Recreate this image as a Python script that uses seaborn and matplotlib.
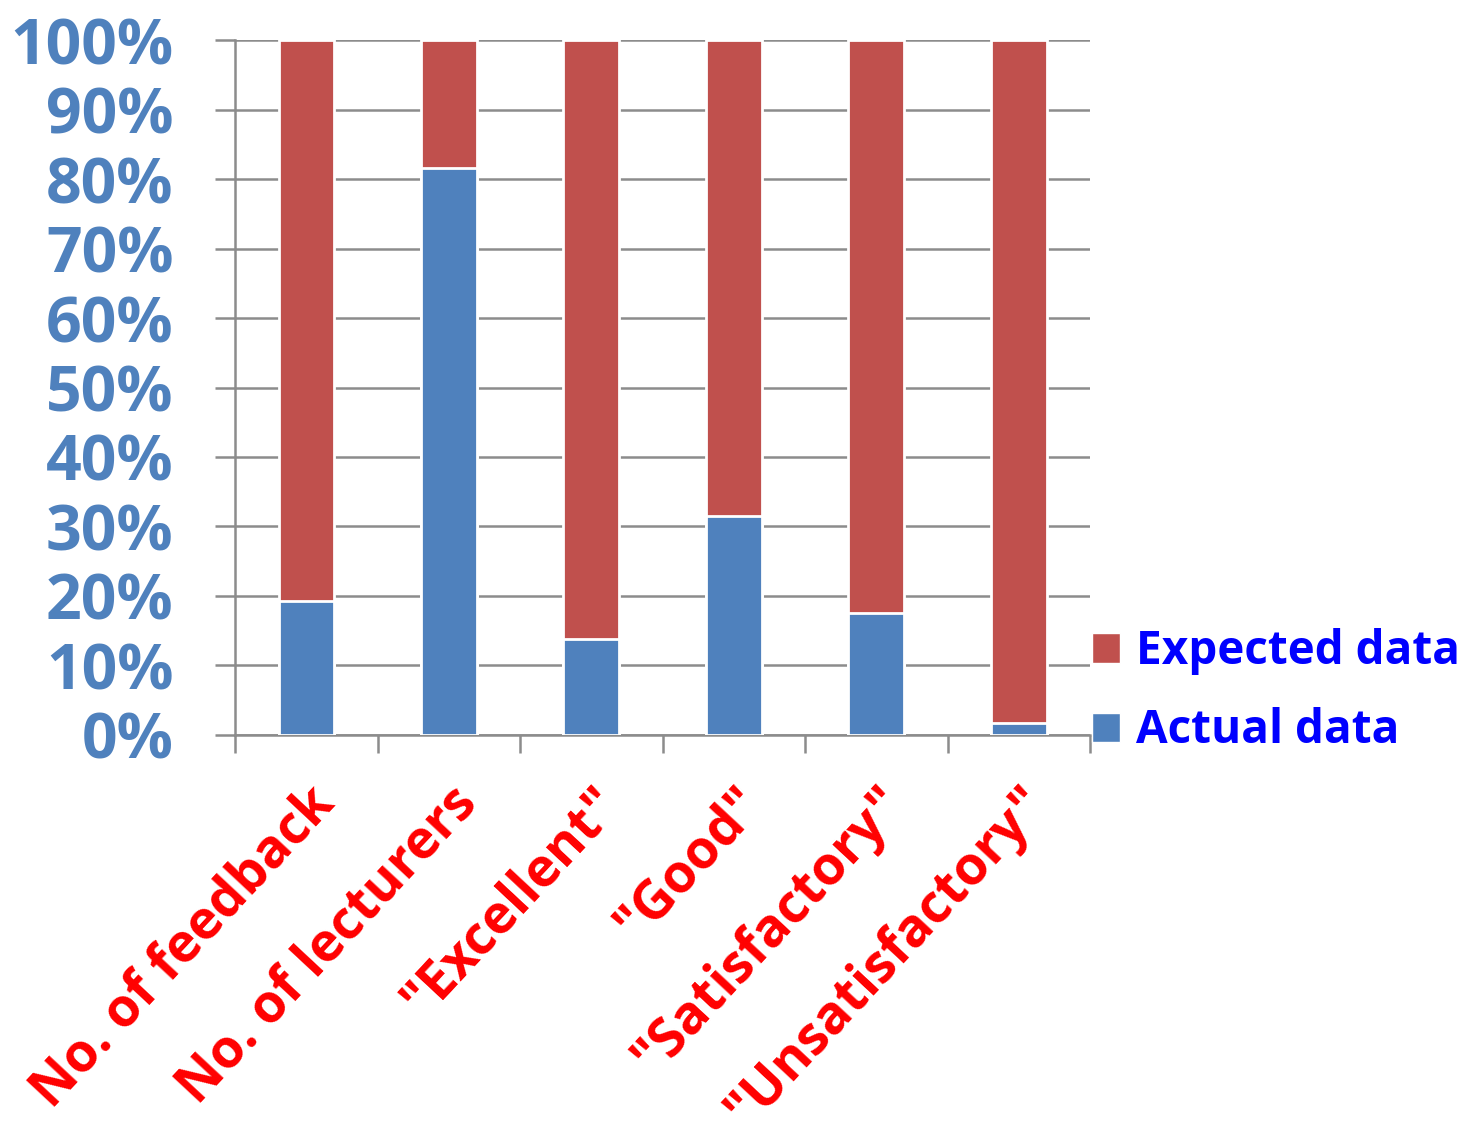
import matplotlib
matplotlib.use("Agg")
import matplotlib.pyplot as plt
import seaborn as sns
import numpy as np
import pandas as pd
from matplotlib.patches import Patch
from matplotlib.ticker import FuncFormatter, FixedLocator

categories = ["No. of feedback", "No. of lecturers", '"Excellent"', '"Good"',
              '"Satisfactory"', '"Unsatisfactory"']
actual = [19.3, 81.6, 13.8, 31.5, 17.5, 1.7]
expected = [80.7, 18.4, 86.2, 68.5, 82.5, 98.3]
yticks = [0, 10, 20, 30, 40, 50, 60, 70, 80, 90, 100]

sns.set_theme(style="white")
plt.rcParams['font.family'] = ['Open Sans', 'DejaVu Sans']

red = "#C0504D"
blue = "#4F81BD"

df = pd.DataFrame({"cat": categories, "actual": actual, "expected": expected})
df["total"] = df["actual"] + df["expected"]

fig = plt.figure(figsize=(14.83, 11.25), dpi=100)
ax = fig.add_axes([0.1585, 0.3467, 0.735 - 0.1585, 0.9644 - 0.3467])

sns.barplot(data=df, x="cat", y="total", color=red, width=0.39,
            edgecolor="white", linewidth=2, saturation=1, ax=ax, zorder=3)
sns.barplot(data=df, x="cat", y="actual", color=blue, width=0.39,
            edgecolor="white", linewidth=2, saturation=1, ax=ax, zorder=4)

ax.set_xlim(-0.5, len(categories) - 0.5)
ax.set_ylim(0, 100)
ax.set_yticks(yticks)
ax.yaxis.set_major_formatter(FuncFormatter(lambda v, p: f"{int(v)}%"))
ax.grid(axis="y", color="#8C8C8C", linewidth=1.8, zorder=0)
ax.set_axisbelow(True)

ax.spines["top"].set_visible(False)
ax.spines["right"].set_visible(False)
for s in ["left", "bottom"]:
    ax.spines[s].set_color("#8C8C8C")
    ax.spines[s].set_linewidth(1.8)

ax.tick_params(axis="y", which="major", length=14.4, width=1.8, color="#8C8C8C",
               pad=30, labelsize=45, labelcolor=blue, left=True)
for t in ax.get_yticklabels():
    t.set_fontweight("bold")

ax.xaxis.set_minor_locator(FixedLocator(np.arange(-0.5, len(categories), 1.0)))
ax.tick_params(axis="x", which="minor", length=13, width=1.8, color="#8C8C8C", bottom=True)
ax.tick_params(axis="x", which="major", length=0, pad=30)
ax.set_xticks(range(len(categories)))
ax.set_xticklabels(categories, rotation=47, ha="right", va="top",
                   rotation_mode="anchor", fontsize=38.5, fontweight="bold", color="#FF0000")
ax.set_xlabel("")
ax.set_ylabel("")

handles = [Patch(facecolor=red, edgecolor="white"), Patch(facecolor=blue, edgecolor="white")]
leg = ax.legend(handles, ["Expected data", "Actual data"], loc="center left",
                bbox_to_anchor=(1.0, 0.063), frameon=False,
                prop={"size": 33, "weight": "bold"}, handlelength=0.6, handleheight=0.6,
                handletextpad=0.35, labelspacing=0.7, borderaxespad=0.0, borderpad=0.05)
for t in leg.get_texts():
    t.set_color("#0000FF")

fig.savefig("out.png", dpi=100)
